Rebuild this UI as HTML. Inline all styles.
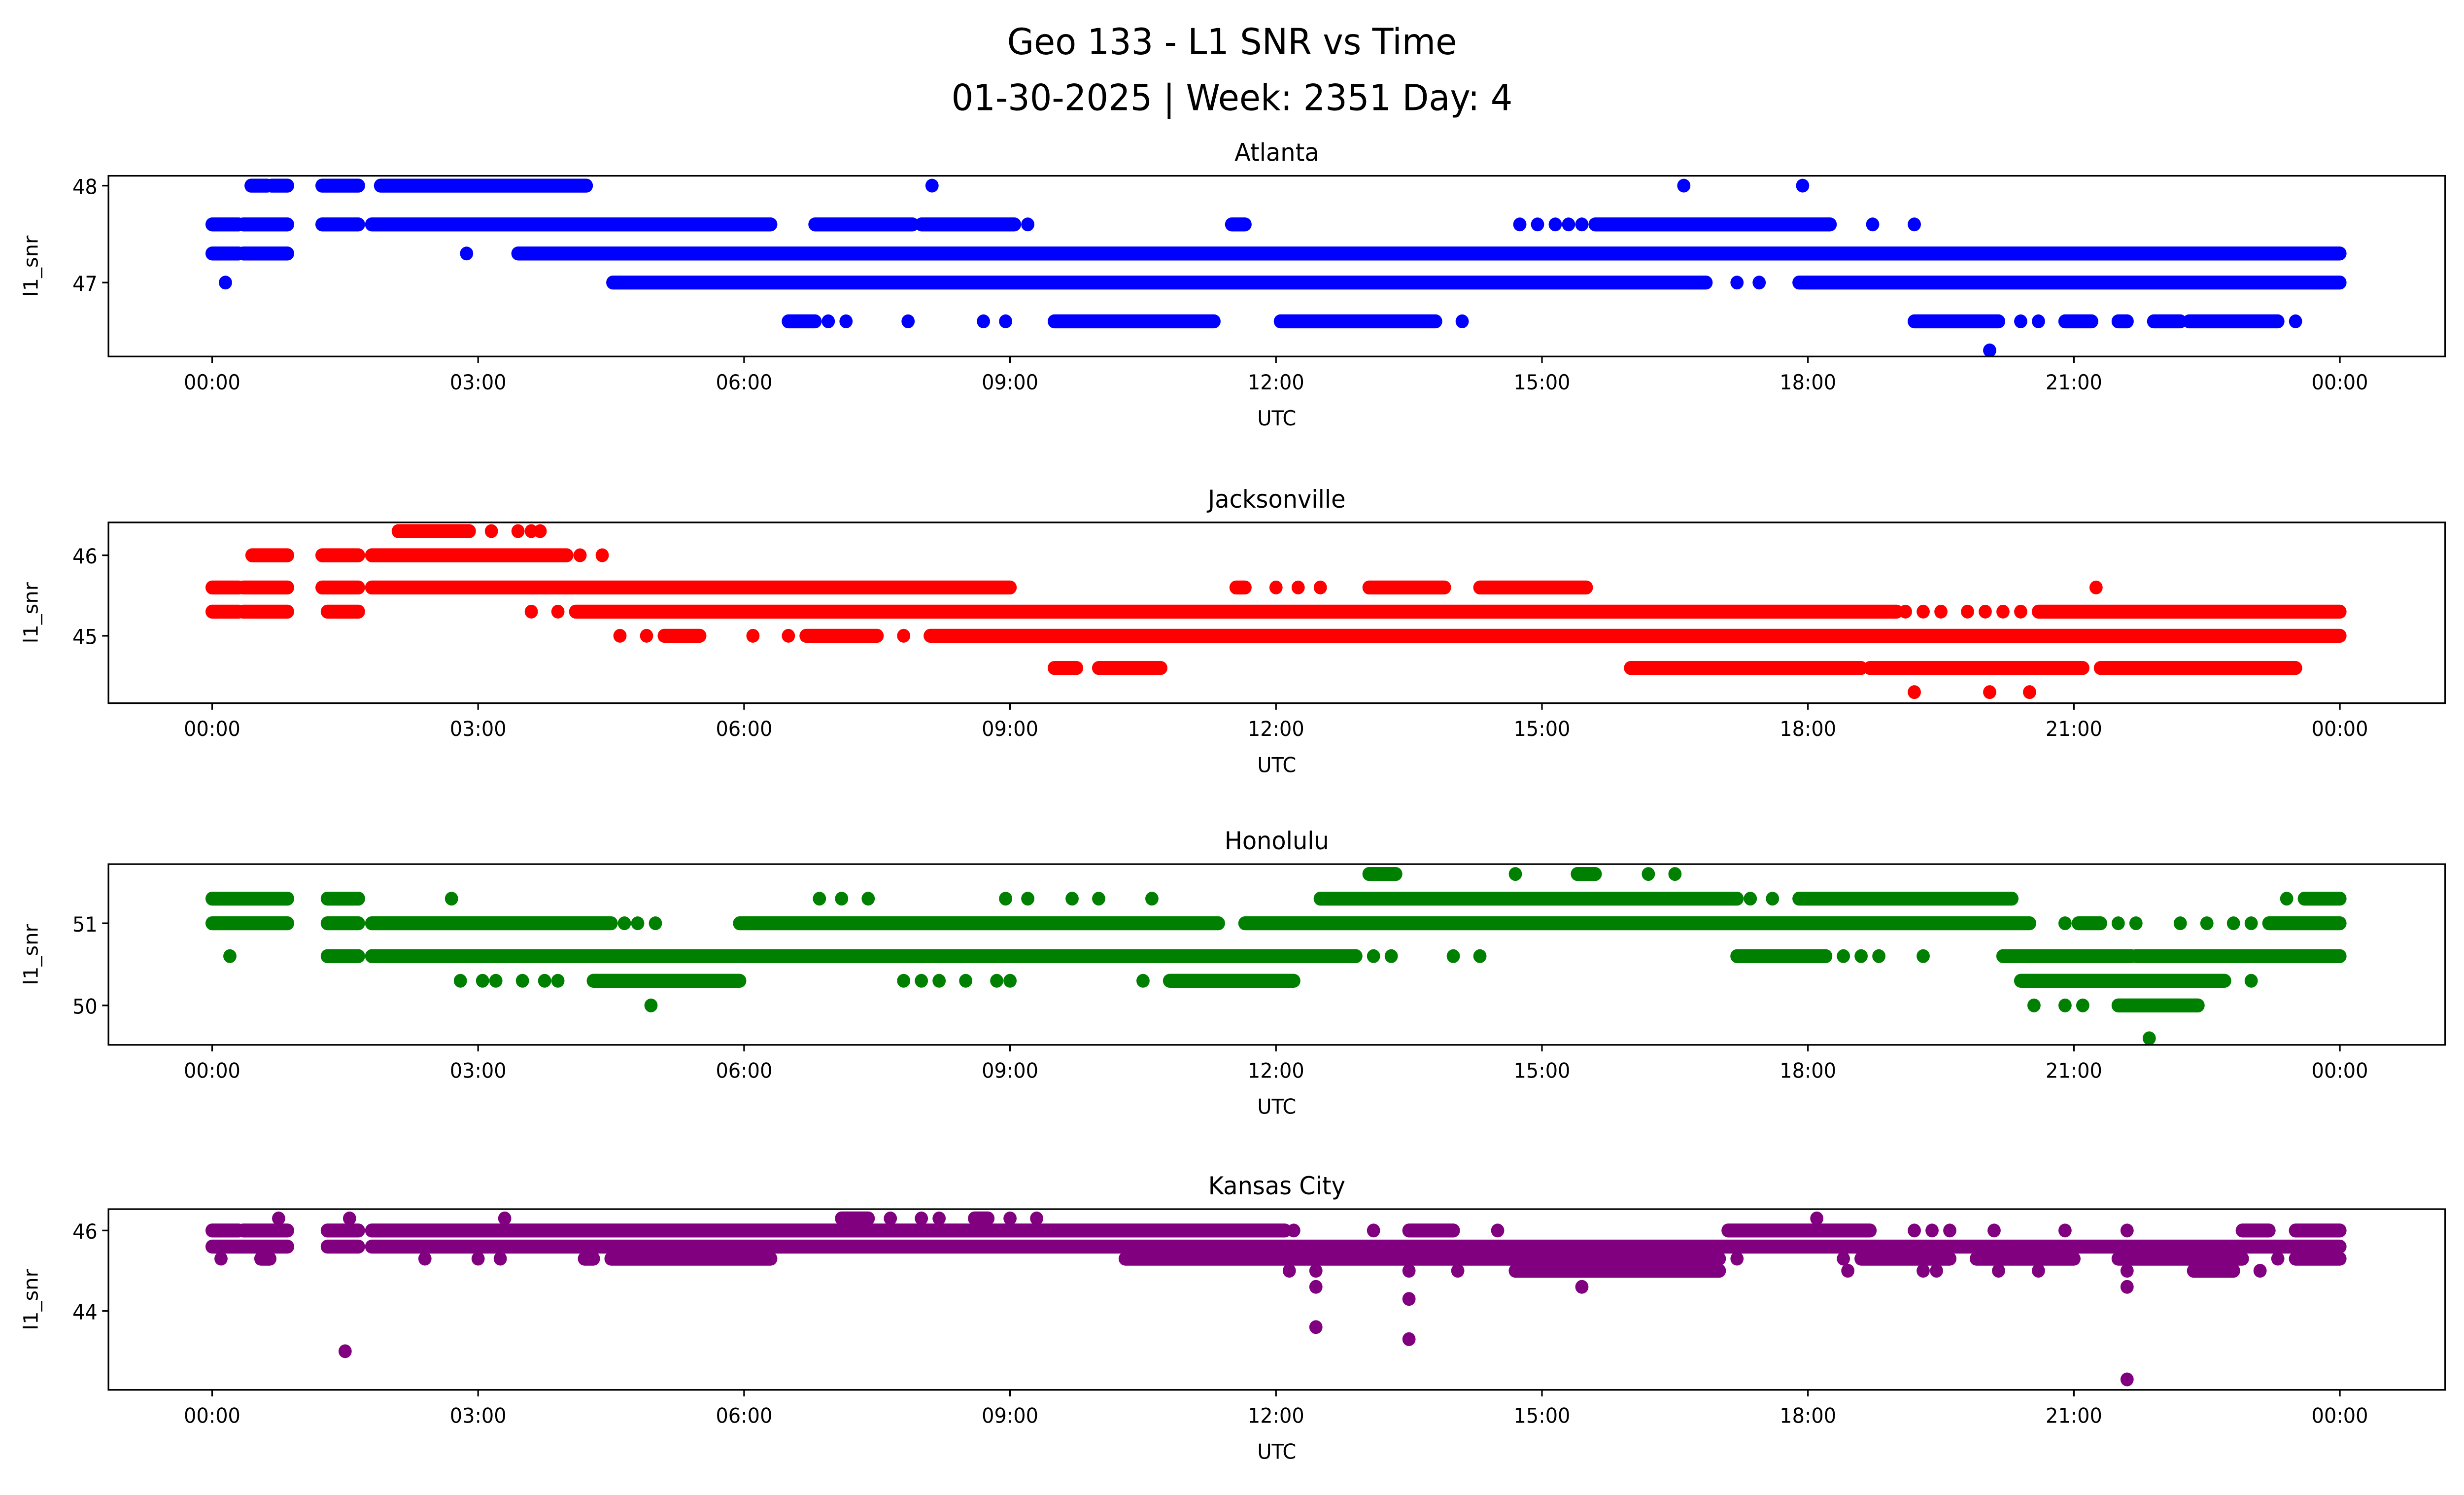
<!DOCTYPE html>
<html><head><meta charset="utf-8"><style>
html,body{margin:0;padding:0;background:#fff;width:100%;height:100%;overflow:hidden}
svg{display:block;width:100vw;height:100vh}
text{font-family:"DejaVu Sans","Liberation Sans",sans-serif;fill:#000}
</style></head><body>
<svg id="chart" viewBox="0 0 1568 910" preserveAspectRatio="none" xmlns="http://www.w3.org/2000/svg">
<rect width="1568" height="910" fill="#fff"/>
<text x="784" y="33" font-size="22" text-anchor="middle">Geo 133 - L1 SNR vs Time</text>
<text x="784" y="67" font-size="22" text-anchor="middle">01-30-2025 | Week: 2351 Day: 4</text>
<g id="plots"></g>
</svg>
<script>
const xTicks=[0,3,6,9,12,15,18,21,24];
const xTickLabels=["00:00","03:00","06:00","09:00","12:00","15:00","18:00","21:00","00:00"];
const stationNames=["Atlanta","Jacksonville","Honolulu","Kansas City"];
const stationColors=["#0000ff","#ff0000","#008000","#800080"];
const yTicks=[[47,48],[45,46],[50,51],[44,46]];
// runs: [snr, startHour, endHour]; singles: [snr, hour]
const atlRuns=[[48,0.44,0.62],[48,0.67,0.85],[48,1.24,1.65],[48,1.9,4.22],
[47.6,0,0.3],[47.6,0.35,0.85],[47.6,1.24,1.65],[47.6,1.8,6.3],[47.6,6.8,7.9],[47.6,8,9.05],[47.6,11.5,11.65],[47.6,15.6,18.25],
[47.3,0,0.3],[47.3,0.35,0.85],[47.3,3.45,24],
[47,4.52,16.85],[47,17.9,24],
[46.6,6.5,6.8],[46.6,9.5,11.3],[46.6,12.05,13.8],[46.6,19.2,20.15],[46.6,20.9,21.2],[46.6,21.5,21.6],[46.6,21.9,22.2],[46.6,22.3,23.3]];
const atlPts=[[48,8.12],[48,16.6],[48,17.94],[47.6,14.75],[47.6,14.95],[47.6,15.15],[47.6,15.3],[47.6,15.45],[47.6,9.2],[47.6,18.73],[47.6,19.2],
[47.3,2.87],[47,0.15],[47,17.2],[47,17.45],[46.6,6.95],[46.6,7.15],[46.6,7.85],[46.6,8.7],[46.6,8.95],[46.6,14.1],[46.6,20.4],[46.6,20.6],[46.6,23.5],[46.3,20.05]];
const jaxRuns=[[46.3,2.1,2.9],[46,0.45,0.85],[46,1.24,1.65],[46,1.8,4.0],
[45.6,0,0.3],[45.6,0.35,0.85],[45.6,1.24,1.65],[45.6,1.8,9.0],[45.6,11.55,11.65],[45.6,13.05,13.9],[45.6,14.3,15.5],
[45.3,0,0.3],[45.3,0.35,0.85],[45.3,1.3,1.65],[45.3,4.1,19.0],[45.3,20.6,24],
[45,5.1,5.5],[45,6.7,7.5],[45,8.1,24],
[44.6,9.5,9.75],[44.6,10.0,10.7],[44.6,16,18.6],[44.6,18.7,21.1],[44.6,21.3,23.5]];
const jaxPts=[[46.3,3.15],[46.3,3.45],[46.3,3.6],[46.3,3.7],[46,4.15],[46,4.4],[45.6,12.0],[45.6,12.25],[45.6,12.5],[45.6,21.25],
[45.3,3.6],[45.3,3.9],[45.3,19.1],[45.3,19.3],[45.3,19.5],[45.3,19.8],[45.3,20],[45.3,20.2],[45.3,20.4],
[45,4.6],[45,4.9],[45,6.1],[45,6.5],[45,7.8],[44.3,19.2],[44.3,20.05],[44.3,20.5]];
const honRuns=[[51.6,13.05,13.35],[51.6,15.4,15.6],
[51.3,0,0.85],[51.3,1.3,1.65],[51.3,12.5,17.2],[51.3,17.9,20.3],[51.3,23.6,24],
[51,0,0.85],[51,1.3,1.65],[51,1.8,4.5],[51,5.95,11.35],[51,11.65,20.5],[51,21.05,21.3],[51,23.2,24],
[50.6,1.3,1.65],[50.6,1.8,12.9],[50.6,17.2,18.2],[50.6,20.2,21.65],[50.6,21.7,24],
[50.3,4.3,5.95],[50.3,10.8,12.2],[50.3,20.4,22.7],[50,21.5,22.4]];
const honPts=[[51.6,14.7],[51.6,16.2],[51.6,16.5],[51.3,2.7],[51.3,6.85],[51.3,7.1],[51.3,7.4],[51.3,8.95],[51.3,9.2],[51.3,9.7],[51.3,10.0],[51.3,10.6],[51.3,17.35],[51.3,17.6],[51.3,23.4],
[51,4.65],[51,4.8],[51,5.0],[51,20.9],[51,21.5],[51,21.7],[51,22.2],[51,22.5],[51,22.8],[51,23.0],
[50.6,0.2],[50.6,13.1],[50.6,13.3],[50.6,14.0],[50.6,14.3],[50.6,18.4],[50.6,18.6],[50.6,18.8],[50.6,19.3],
[50.3,2.8],[50.3,3.05],[50.3,3.2],[50.3,3.5],[50.3,3.75],[50.3,3.9],[50.3,7.8],[50.3,8.0],[50.3,8.2],[50.3,8.5],[50.3,8.85],[50.3,9.0],[50.3,10.5],[50.3,23.0],
[50,4.95],[50,20.55],[50,20.9],[50,21.1],[49.6,21.85]];
const kcRuns=[[46.3,7.1,7.4],[46.3,8.6,8.75],
[46,0,0.3],[46,0.35,0.85],[46,1.3,1.65],[46,1.8,12.1],[46,13.5,14.0],[46,17.1,18.7],[46,22.9,23.2],[46,23.5,24],
[45.6,0,0.85],[45.6,1.3,1.65],[45.6,1.8,24],
[45.3,0.55,0.65],[45.3,4.2,4.3],[45.3,4.5,6.3],[45.3,10.3,17.0],[45.3,18.6,19.6],[45.3,19.9,21.0],[45.3,21.5,22.9],[45.3,23.5,24],
[45,14.7,17.0],[45,22.35,22.8]];
const kcPts=[[46.3,0.75],[46.3,1.55],[46.3,3.3],[46.3,7.65],[46.3,8.0],[46.3,8.2],[46.3,9.0],[46.3,9.3],[46.3,18.1],
[46,12.2],[46,13.1],[46,14.5],[46,19.2],[46,19.4],[46,19.6],[46,20.1],[46,20.9],[46,21.6],
[45.3,0.1],[45.3,2.4],[45.3,3.0],[45.3,3.25],[45.3,17.2],[45.3,18.4],[45.3,23.3],
[45,12.15],[45,12.45],[45,13.5],[45,14.05],[45,18.45],[45,19.3],[45,19.45],[45,20.15],[45,20.6],[45,21.6],[45,23.1],
[44.6,12.45],[44.6,15.45],[44.6,21.6],[44.3,13.5],[43.6,12.45],[43.3,13.5],[43,1.5],[42.3,21.6]];
const allRuns=[atlRuns,jaxRuns,honRuns,kcRuns];
const allPts=[atlPts,jaxPts,honPts,kcPts];
const axL=69,axR=1556,x0=135,x24=1489;
const tops=[107,318,526,736],hgt=110;
const yRef=[[48,113,47,172],[46,338,45,387],[51,562,50,612],[46,749,44,798]];
const NS="http://www.w3.org/2000/svg";
const root=document.getElementById('plots');
function el(t,a,p){const e=document.createElementNS(NS,t);for(const k in a)e.setAttribute(k,a[k]);(p||root).appendChild(e);return e;}
const xs=h=>x0+(x24-x0)*h/24;
for(let i=0;i<4;i++){
  const [v1,p1,v2,p2]=yRef[i];
  const ys=v=>p1+(v-v1)*(p2-p1)/(v2-v1);
  const top=tops[i],bot=top+hgt;
  const g=el('g',{});
  
  
  const t=el('text',{x:(axL+axR)/2,y:top-9,'font-size':15,'text-anchor':'middle'},g);t.textContent=stationNames[i];
  
  
  const c=stationColors[i];
  const sg=el('g',{},g);
  
  
  allRuns[i].forEach(r=>{const l=el('line',{x1:xs(r[1]),x2:xs(r[2]),y1:ys(r[0]),y2:ys(r[0]),stroke:c,'stroke-width':8.5,'stroke-linecap':'round'},sg);
    
    });
  allPts[i].forEach(p=>{const d=el('circle',{cx:xs(p[1]),cy:ys(p[0]),r:4.2,fill:c},sg);
    
    });
  const f=el('rect',{x:axL,y:top,width:axR-axL,height:hgt,fill:'none',stroke:'#000','stroke-width':1},g);
  
  
  xTicks.forEach((h,k)=>{el('line',{x1:xs(h),x2:xs(h),y1:bot,y2:bot+4,stroke:'#000','stroke-width':1},g);
    const tl=el('text',{x:xs(h),y:bot+20,'font-size':12.5,'text-anchor':'middle'},g);tl.textContent=xTickLabels[k];
    
    });
  yTicks[i].forEach(v=>{el('line',{x1:axL-4,x2:axL,y1:ys(v),y2:ys(v),stroke:'#000','stroke-width':1},g);
    const tl=el('text',{x:axL-7,y:ys(v)+5,'font-size':12.5,'text-anchor':'end'},g);tl.textContent=v;
    
    });
  const xl=el('text',{x:(axL+axR)/2,y:bot+42,'font-size':12.5,'text-anchor':'middle'},g);xl.textContent='UTC';
  
  
  const yl=el('text',{x:0,y:0,'font-size':12.5,'text-anchor':'middle',transform:`translate(24,${top+hgt/2}) rotate(-90)`},g);yl.textContent='l1_snr';
  
  
}
</script>
</body></html>
